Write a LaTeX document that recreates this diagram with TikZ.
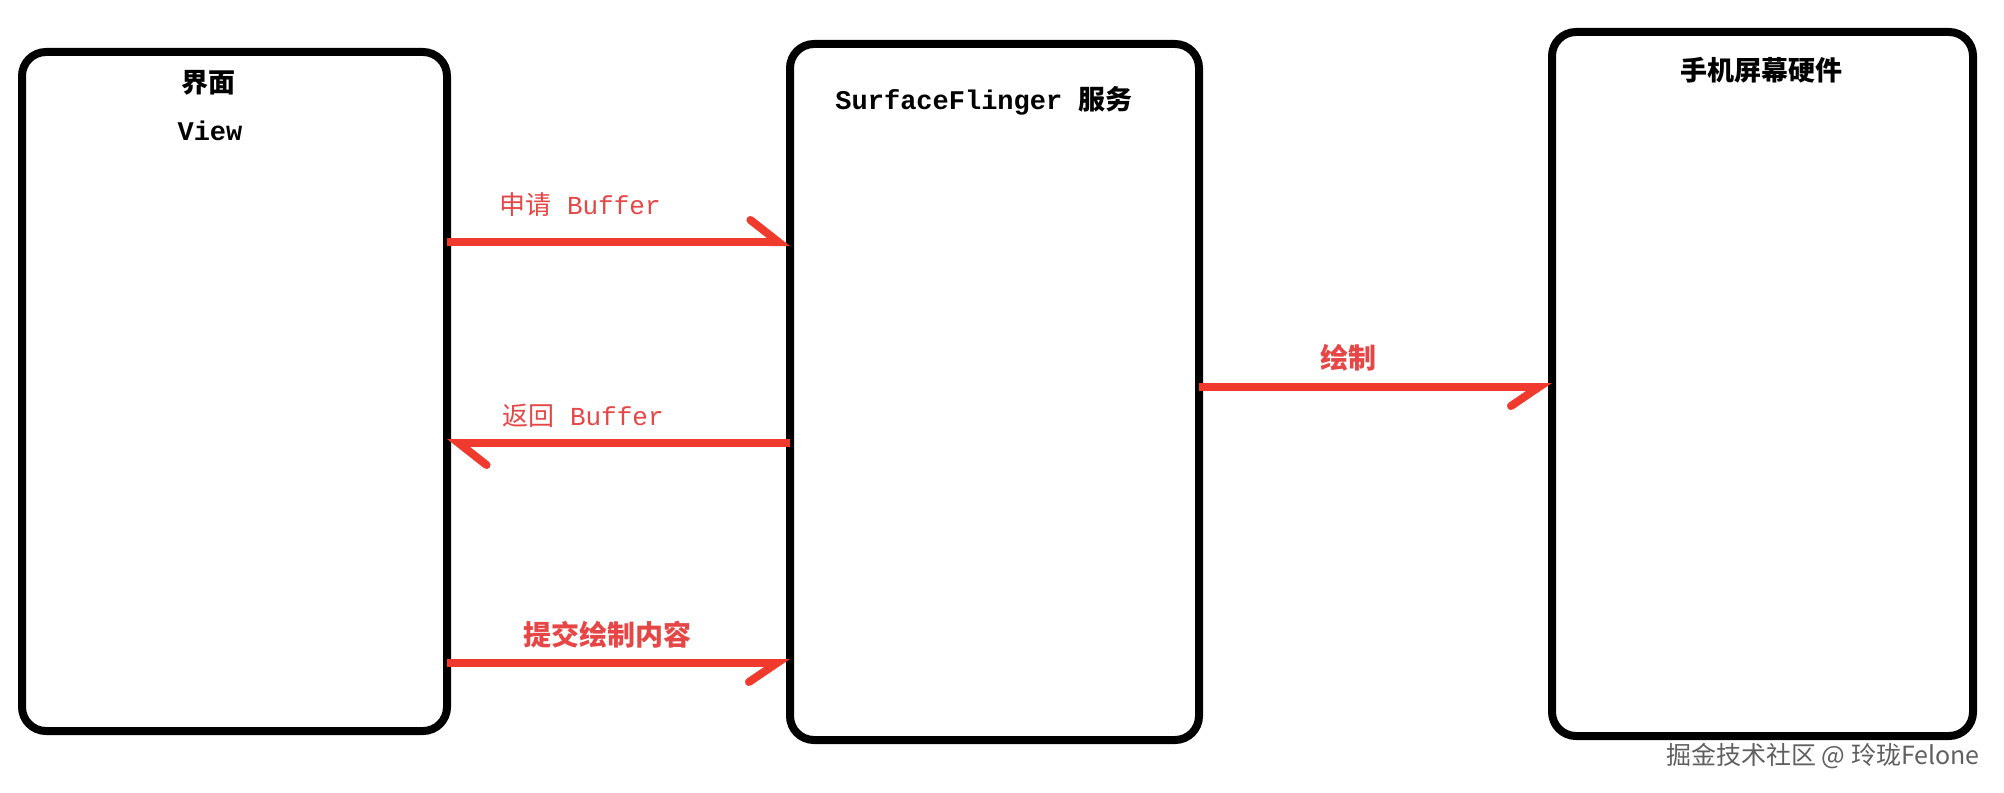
\documentclass[tikz,border=0pt]{standalone}
\usepackage{fontspec}
\setmainfont{Liberation Mono}
\newfontfamily\cjk{Noto Sans CJK SC}
\usetikzlibrary{arrows.meta}
\definecolor{arrowred}{RGB}{240,58,45}
\definecolor{labelred}{RGB}{230,70,70}
\definecolor{markgray}{RGB}{95,95,95}
\tikzset{
  phone/.style={draw=black,line width=8pt,rounded corners=24pt,fill=white,outer sep=0pt},
  title/.style={font=\fontsize{27}{32}\selectfont\bfseries,text=black},
  msg/.style={font=\fontsize{26}{30}\selectfont,text=labelred},
  redline/.style={draw=arrowred,line width=8pt},
  barbup/.style={-{Straight Barb[harpoon,length=28pt,width=44pt,line cap=round]}},
  barbdown/.style={-{Straight Barb[harpoon,swap,length=28pt,width=38pt,line cap=round]}}
}
\begin{document}
\begin{tikzpicture}[x=1pt,y=-1pt]
\useasboundingbox (0,0) rectangle (2004,792);

% the three boxes
\node[phone,minimum width=425,minimum height=679] (view) at (234.5,391.5) {};
\node[phone,minimum width=409,minimum height=696] (sf) at (994.5,392) {};
\node[phone,minimum width=421,minimum height=704] (hw) at (1762.5,384) {};

\node[title] (viewname) at (208,83) {\cjk 界面};
\node[title] (viewsub) at (210,131) {View};
\node[title] (sfname) at (984,101) {SurfaceFlinger {\cjk 服务}};
\node[title] (hwname) at (1761,70) {\cjk 手机屏幕硬件};

% messages
\node[msg] (req) at (580,205) {{\cjk 申请} Buffer};
\draw[redline,barbup] (view.east |- 0,242) -- (sf.west |- 0,242);

\node[msg] (ret) at (583,416) {{\cjk 返回} Buffer};
\draw[redline,barbup] (sf.west |- 0,443) -- (view.east |- 0,443);

\node[msg,font=\fontsize{28}{32}\selectfont\cjk\bfseries] (commit) at (607,635) {提交绘制内容};
\draw[redline,barbdown] (view.east |- 0,663) -- (sf.west |- 0,663);

\node[msg,font=\fontsize{28}{32}\selectfont\cjk\bfseries] (draw) at (1348,358) {绘制};
\draw[redline,barbdown] (sf.east |- 0,387) -- (hw.west |- 0,387);

\node[font=\fontsize{25}{28}\selectfont\cjk,text=markgray] (mark) at (1823,756) {掘金技术社区 @ 玲珑Felone};
\end{tikzpicture}
\end{document}
